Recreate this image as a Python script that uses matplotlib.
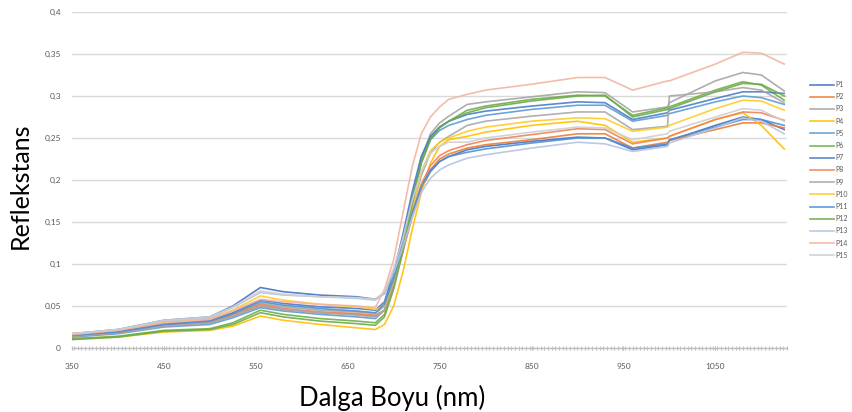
import matplotlib
matplotlib.use("Agg")
import matplotlib.pyplot as plt
from matplotlib.ticker import MultipleLocator, FixedLocator, FuncFormatter

# Wavelength sample points (nm)
wl = [350, 400, 450, 500, 525, 555, 580, 620, 660, 680,
      690, 700, 710, 720, 730, 740, 750, 760,
      780, 800, 850, 900, 930, 960, 998, 1000, 1050, 1080, 1100, 1125]

P1 = [.017, .022, .033, .037, .050, .072, .067, .063, .061, .058,
      .065, .090, .125, .160, .190, .210, .222, .228,
      .236, .240, .246, .251, .250, .236, .242, .247, .265, .275, .272, .260]
P2 = [.014, .018, .027, .030, .038, .050, .046, .042, .040, .038,
      .045, .075, .115, .155, .190, .212, .225, .231,
      .238, .242, .248, .255, .255, .238, .245, .247, .260, .268, .268, .262]
P3 = [.015, .019, .028, .031, .040, .053, .049, .045, .043, .041,
      .050, .085, .130, .180, .225, .255, .268, .276,
      .290, .293, .299, .305, .304, .281, .287, .292, .318, .328, .325, .306]
P4 = [.011, .013, .019, .021, .026, .038, .033, .028, .024, .022,
      .028, .050, .090, .140, .185, .220, .240, .248,
      .252, .257, .265, .270, .265, .245, .250, .252, .272, .280, .265, .237]
P5 = [.013, .017, .025, .028, .036, .048, .044, .040, .037, .035,
      .045, .080, .125, .175, .220, .248, .259, .265,
      .272, .277, .284, .289, .289, .270, .277, .279, .293, .300, .298, .290]
P6 = [.011, .014, .021, .023, .030, .045, .040, .035, .032, .030,
      .040, .075, .120, .175, .225, .250, .263, .270,
      .283, .288, .296, .301, .300, .277, .286, .287, .307, .317, .313, .295]
P7 = [.015, .020, .029, .033, .042, .057, .053, .049, .047, .045,
      .055, .090, .135, .185, .228, .252, .263, .270,
      .278, .282, .288, .293, .292, .272, .280, .283, .297, .305, .305, .303]
P8 = [.014, .018, .027, .031, .039, .052, .047, .043, .041, .039,
      .045, .075, .115, .160, .195, .217, .229, .235,
      .242, .247, .254, .261, .260, .243, .250, .252, .272, .281, .280, .271]
P9 = [.014, .018, .026, .030, .038, .050, .046, .042, .039, .037,
      .045, .078, .120, .165, .205, .232, .245, .252,
      .265, .270, .276, .281, .281, .260, .264, .300, .305, .310, .307, .292]
P10 = [.017, .021, .031, .035, .045, .062, .057, .052, .049, .046,
       .050, .080, .120, .165, .210, .235, .245, .250,
       .258, .263, .270, .274, .273, .258, .263, .265, .285, .295, .294, .283]
P11 = [.015, .019, .028, .032, .041, .055, .051, .047, .044, .042,
       .052, .082, .120, .160, .192, .212, .222, .228,
       .233, .237, .244, .250, .250, .238, .243, .248, .263, .272, .272, .265]
P12 = [.010, .013, .020, .022, .028, .042, .037, .032, .029, .027,
       .037, .070, .115, .170, .220, .248, .262, .270,
       .280, .286, .294, .300, .301, .275, .284, .285, .305, .315, .314, .300]
P13 = [.017, .022, .032, .036, .048, .066, .063, .061, .059, .057,
       .065, .090, .120, .155, .185, .202, .212, .218,
       .226, .230, .238, .245, .243, .234, .240, .244, .262, .274, .270, .255]
P14 = [.016, .021, .030, .034, .044, .058, .055, .052, .050, .048,
       .070, .105, .160, .215, .255, .275, .287, .296,
       .302, .307, .314, .322, .322, .307, .318, .318, .338, .352, .351, .338]
P15 = [.017, .022, .033, .037, .049, .068, .064, .061, .060, .058,
       .067, .095, .130, .175, .210, .232, .240, .245,
       .245, .250, .257, .263, .262, .248, .255, .258, .275, .285, .283, .270]

series = [P1, P2, P3, P4, P5, P6, P7, P8, P9, P10, P11, P12, P13, P14, P15]
labels = ["P%d" % i for i in range(1, 16)]
xtick_vals = [350, 450, 550, 650, 750, 850, 950, 1050]
colors = ["#4472C4", "#ED7D31", "#A5A5A5", "#FFC000", "#5B9BD5", "#70AD47",
          "#4A7CCB", "#EE8455", "#A8A8A8", "#FFCA28", "#4F8FD6", "#6CAB4C",
          "#B4C4E4", "#F4B4A0", "#CFCFCF"]

fig = plt.figure(figsize=(8.53, 4.12), dpi=100)
ax = fig.add_axes([72/853, 1-348/412, (787-72)/853, (348-12)/412])

lines = []
for s, c, lab in zip(series, colors, labels):
    ln, = ax.plot(wl, s, color=c, lw=1.2, label=lab, alpha=0.9)
    lines.append(ln)

ax.set_xlim(350, 1128)
ax.set_ylim(0, 0.4)
ax.yaxis.set_major_locator(MultipleLocator(0.05))
ax.xaxis.set_major_locator(FixedLocator(xtick_vals))
ax.xaxis.set_minor_locator(MultipleLocator(4))
ax.yaxis.set_major_formatter(FuncFormatter(
    lambda v, p: "0" if abs(v) < 1e-9 else ("%g" % round(v, 2)).replace(".", ",")))
ax.xaxis.set_major_formatter(FuncFormatter(lambda v, p: "%d" % v))

ax.grid(axis="y", color="#D9D9D9", lw=1.0)
ax.set_axisbelow(True)
for sp in ["top", "right", "left"]:
    ax.spines[sp].set_visible(False)
ax.spines["bottom"].set_color("#BFBFBF")
ax.spines["bottom"].set_linewidth(1.0)

ax.tick_params(axis="y", length=0, labelsize=6, labelcolor="#595959", pad=8)
ax.tick_params(axis="x", which="major", length=3, direction="inout", color="#BFBFBF",
               labelsize=6, labelcolor="#595959", pad=9)
ax.tick_params(axis="x", which="minor", length=3, direction="inout", color="#BFBFBF", width=0.8)
for t in ax.get_xticklabels() + ax.get_yticklabels():
    t.set_family("Lato")

fig.text(20/853, 1-186/412, "Reflekstans", rotation=90, ha="center", va="center",
         fontsize=18, family="Lato", color="#000000")
fig.text(392/853, 1-398/412, "Dalga Boyu (nm)", ha="center", va="center",
         fontsize=18.5, family="Lato", color="#000000")

leg = fig.legend(handles=lines, labels=labels, loc="upper left",
                 bbox_to_anchor=(810/853, 1-81/412), frameon=False,
                 fontsize=5, handlelength=3.4, handletextpad=0.3,
                 labelspacing=0.75, borderaxespad=0, borderpad=0)
for t in leg.get_texts():
    t.set_color("#595959")
    t.set_family("Lato")

fig.savefig("out.png", dpi=100)
